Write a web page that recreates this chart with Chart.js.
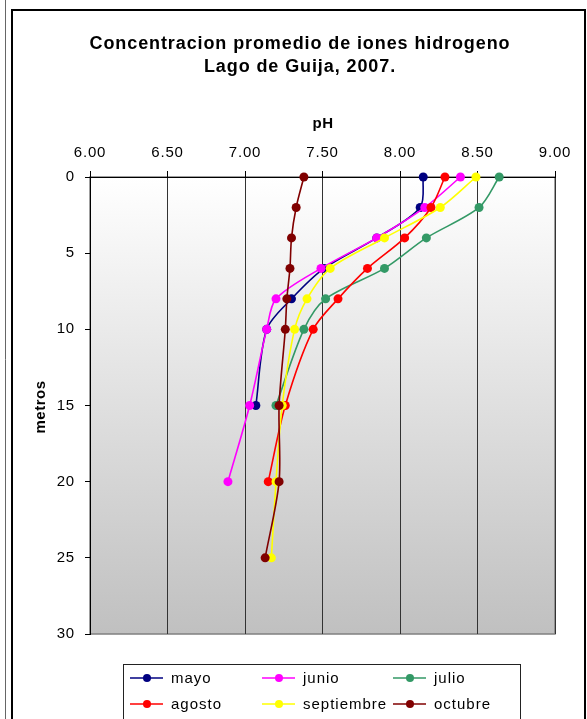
<!DOCTYPE html>
<html>
<head>
<meta charset="utf-8">
<script src="https://cdn.jsdelivr.net/npm/chart.js@4.4.1/dist/chart.umd.min.js"></script>
<style>
html,body{margin:0;padding:0;background:#fff;}
#c{display:block;}
</style>
</head>
<body>
<canvas id="c" width="587" height="719"></canvas>
<script>
// ---- data ----
const titleLines = ["Concentracion promedio de iones hidrogeno", "Lago de Guija, 2007."];
const xTitle = "pH";
const yTitle = "metros";
const seriesNames = ["mayo", "junio", "julio", "agosto", "septiembre", "octubre"];
const seriesColors = ["#000080", "#ff00ff", "#339966", "#ff0000", "#ffff00", "#800000"];

const depthMayo = [0, 2, 4, 6, 8, 10, 15];
const phMayo    = [8.15, 8.13, 7.85, 7.51, 7.30, 7.14, 7.07];
const depthJunio = [0, 2, 4, 6, 8, 10, 15, 20];
const phJunio    = [8.39, 8.16, 7.85, 7.49, 7.20, 7.14, 7.03, 6.89];
const depthJulio = [0, 2, 4, 6, 8, 10, 15];
const phJulio    = [8.64, 8.51, 8.17, 7.90, 7.52, 7.38, 7.20];
const depthAgosto = [0, 2, 4, 6, 8, 10, 15, 20];
const phAgosto    = [8.29, 8.20, 8.03, 7.79, 7.60, 7.44, 7.26, 7.15];
const depthSept = [0, 2, 4, 6, 8, 10, 15, 20, 25];
const phSept    = [8.49, 8.26, 7.90, 7.55, 7.40, 7.32, 7.24, 7.20, 7.17];
const depthOct = [0, 2, 4, 6, 8, 10, 15, 20, 25];
const phOct    = [7.38, 7.33, 7.30, 7.29, 7.27, 7.26, 7.22, 7.22, 7.13];

const xTicks = [6.0, 6.5, 7.0, 7.5, 8.0, 8.5, 9.0];
const yTicks = [0, 5, 10, 15, 20, 25, 30];

const allDepths = [depthMayo, depthJunio, depthJulio, depthAgosto, depthSept, depthOct];
const allPh = [phMayo, phJunio, phJulio, phAgosto, phSept, phOct];

const FONT = "'Liberation Sans', Arial, sans-serif";

const datasets = seriesNames.map((name, i) => ({
  label: name,
  data: allPh[i].map((p, k) => ({ x: p, y: allDepths[i][k] })),
  borderColor: seriesColors[i],
  backgroundColor: seriesColors[i],
  pointBackgroundColor: seriesColors[i],
  pointBorderColor: seriesColors[i],
  pointRadius: 4.5,
  pointBorderWidth: 0,
  borderWidth: 1.6,
  showLine: true,
  tension: 0.3,
  clip: false,
  fill: false,
  order: seriesNames.length - i
}));

const framePlugin = {
  id: 'frame',
  beforeDraw(chart) {
    const ctx = chart.ctx;
    const a = chart.chartArea;
    ctx.save();
    ctx.fillStyle = '#fff';
    ctx.fillRect(0, 0, chart.width, chart.height);
    const g = ctx.createLinearGradient(0, a.top, 0, a.bottom);
    g.addColorStop(0, '#ffffff');
    g.addColorStop(1, '#c0c0c0');
    ctx.fillStyle = g;
    ctx.fillRect(a.left, a.top, a.right - a.left, a.bottom - a.top);
    ctx.strokeStyle = '#808080';
    ctx.lineWidth = 1.5;
    ctx.strokeRect(a.left, a.top, a.right - a.left, a.bottom - a.top);
    ctx.restore();
    ctx.letterSpacing = '0.8px';
  },
  afterDraw(chart) {
    const ctx = chart.ctx;
    ctx.save();
    ctx.strokeStyle = '#666';
    ctx.lineWidth = 1;
    ctx.beginPath(); ctx.moveTo(5.5, 0); ctx.lineTo(5.5, 719); ctx.stroke();
    ctx.strokeStyle = '#000';
    ctx.lineWidth = 2;
    ctx.beginPath();
    ctx.moveTo(12, 730); ctx.lineTo(12, 10); ctx.lineTo(585, 10); ctx.lineTo(585, 730);
    ctx.stroke();
    // title
    ctx.fillStyle = '#000';
    ctx.textAlign = 'center';
    ctx.textBaseline = 'middle';
    ctx.letterSpacing = '0.9px';
    ctx.font = 'bold 18px ' + FONT;
    ctx.fillText(titleLines[0], 300, 44);
    ctx.fillText(titleLines[1], 300, 67);
    // axis titles
    ctx.letterSpacing = '0.5px';
    ctx.font = 'bold 15px ' + FONT;
    ctx.fillText(xTitle, 323, 124);
    ctx.save();
    ctx.translate(41, 407);
    ctx.rotate(-Math.PI / 2);
    ctx.fillText(yTitle, 0, 0);
    ctx.restore();
    // legend
    ctx.strokeStyle = '#222';
    ctx.lineWidth = 1;
    ctx.strokeRect(123.5, 664.5, 397, 70);
    const cols = [130, 262, 393];
    const rows = [678, 704];
    ctx.letterSpacing = '1px';
    ctx.font = '15px ' + FONT;
    ctx.textAlign = 'left';
    chart.data.datasets.forEach((ds, i) => {
      const x = cols[i % 3], y = rows[Math.floor(i / 3)];
      ctx.strokeStyle = ds.borderColor;
      ctx.lineWidth = 1.6;
      ctx.beginPath(); ctx.moveTo(x, y); ctx.lineTo(x + 33, y); ctx.stroke();
      ctx.fillStyle = ds.borderColor;
      ctx.beginPath(); ctx.arc(x + 17, y, 4, 0, Math.PI * 2); ctx.fill();
      ctx.fillStyle = '#000';
      ctx.fillText(ds.label, x + 41, y + 1);
    });
    ctx.restore();
  }
};

new Chart(document.getElementById('c'), {
  type: 'scatter',
  data: { datasets },
  options: {
    responsive: false,
    animation: false,
    layout: { padding: { left: 0, right: 32, top: 0, bottom: 85 } },
    plugins: {
      legend: { display: false },
      title: { display: false },
      tooltip: { enabled: false }
    },
    scales: {
      x: {
        type: 'linear',
        position: 'top',
        min: 6, max: 9,
        afterBuildTicks(scale) { scale.ticks = xTicks.map(v => ({ value: v })); },
        afterFit(scale) { scale.height = 177; },
        ticks: {
          color: '#000',
          font: { family: FONT, size: 15 },
          padding: 9,
          callback: v => Number(v).toFixed(2)
        },
        grid: { color: '#333', lineWidth: 1, tickLength: 6, tickColor: '#000' },
        border: { color: '#000', width: 1 }
      },
      y: {
        type: 'linear',
        reverse: true,
        min: 0, max: 30,
        afterBuildTicks(scale) { scale.ticks = yTicks.map(v => ({ value: v })); },
        afterFit(scale) { scale.width = 90; },
        ticks: {
          color: '#000',
          font: { family: FONT, size: 15 },
          padding: 10
        },
        grid: { drawOnChartArea: false, tickLength: 5, tickColor: '#000' },
        border: { color: '#000', width: 1 }
      }
    }
  },
  plugins: [framePlugin]
});
</script>
</body>
</html>
